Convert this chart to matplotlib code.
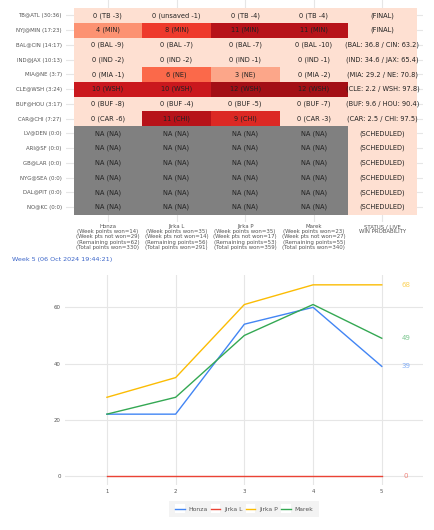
import matplotlib
matplotlib.use("Agg")
import matplotlib.pyplot as plt
from matplotlib.colors import Normalize
from matplotlib.patches import Rectangle
from matplotlib.legend_handler import HandlerLine2D
import numpy as np

# ---------------- data ----------------
games = ["TB@ATL (30:36)", "NYJ@MIN (17:23)", "BAL@CIN (14:17)", "IND@JAX (10:13)",
         "MIA@NE (3:7)", "CLE@WSH (3:24)", "BUF@HOU (3:17)", "CAR@CHI (7:27)",
         "LV@DEN (0:0)", "ARI@SF (0:0)", "GB@LAR (0:0)", "NYG@SEA (0:0)",
         "DAL@PIT (0:0)", "NO@KC (0:0)"]

players = ["Honza", "Jirka L", "Jirka P", "Marek"]

NA = None
honza_pts = [0, 4, 0, 0, 0, 10, 0, 0, NA, NA, NA, NA, NA, NA]
honza_lbl = ["0 (TB -3)", "4 (MIN)", "0 (BAL -9)", "0 (IND -2)", "0 (MIA -1)", "10 (WSH)",
             "0 (BUF -8)", "0 (CAR -6)"] + ["NA (NA)"] * 6
jirkal_pts = [0, 8, 0, 0, 6, 10, 0, 11, NA, NA, NA, NA, NA, NA]
jirkal_lbl = ["0 (unsaved -1)", "8 (MIN)", "0 (BAL -7)", "0 (IND -2)", "6 (NE)", "10 (WSH)",
              "0 (BUF -4)", "11 (CHI)"] + ["NA (NA)"] * 6
jirkap_pts = [0, 11, 0, 0, 3, 12, 0, 9, NA, NA, NA, NA, NA, NA]
jirkap_lbl = ["0 (TB -4)", "11 (MIN)", "0 (BAL -7)", "0 (IND -1)", "3 (NE)", "12 (WSH)",
              "0 (BUF -5)", "9 (CHI)"] + ["NA (NA)"] * 6
marek_pts = [0, 11, 0, 0, 0, 12, 0, 0, NA, NA, NA, NA, NA, NA]
marek_lbl = ["0 (TB -4)", "11 (MIN)", "0 (BAL -10)", "0 (IND -1)", "0 (MIA -2)", "12 (WSH)",
             "0 (BUF -7)", "0 (CAR -3)"] + ["NA (NA)"] * 6
status_lbl = ["(FINAL)", "(FINAL)", "(BAL: 36.8 / CIN: 63.2)", "(IND: 34.6 / JAX: 65.4)",
              "(MIA: 29.2 / NE: 70.8)", "(CLE: 2.2 / WSH: 97.8)", "(BUF: 9.6 / HOU: 90.4)",
              "(CAR: 2.5 / CHI: 97.5)"] + ["(SCHEDULED)"] * 6

week_won = [14, 35, 35, 23]
week_not_won = [29, 14, 17, 27]
remaining = [62, 56, 53, 55]
total_won = [330, 291, 359, 340]

weeks = [1, 2, 3, 4, 5]
honza_series = [22, 22, 54, 60, 39]
jirkal_series = [0, 0, 0, 0, 0]
jirkap_series = [28, 35, 61, 68, 68]
marek_series = [22, 28, 50, 61, 49]
line_colors = ["#4285F4", "#EA4335", "#FBBC04", "#34A853"]

title = "Week 5 (06 Oct 2024 19:44:21)"

# ---------------- figure ----------------
plt.rcParams['font.family'] = ['DejaVu Sans']
W, H = 435, 530
fig = plt.figure(figsize=(W / 100, H / 100), dpi=100)
fig.patch.set_facecolor("white")

def fr(x0, y0, x1, y1):
    return [x0 / W, 1 - y1 / H, (x1 - x0) / W, (y1 - y0) / H]

# ---------- heatmap ----------
ax = fig.add_axes(fr(66, 0, 423, 222))
cmap = plt.get_cmap("Reds")
norm = Normalize(vmin=-2, vmax=14)
grid_c = "#e6e6e6"

pts_cols = [honza_pts, jirkal_pts, jirkap_pts, marek_pts]
lbl_cols = [honza_lbl, jirkal_lbl, jirkap_lbl, marek_lbl]
nrows = len(games)
for c in range(5):
    for r in range(nrows):
        if c < 4:
            v = pts_cols[c][r]
            txt = lbl_cols[c][r]
            col = "#808080" if v is None else cmap(norm(v))
        else:
            txt = status_lbl[r]
            col = cmap(norm(0))
        ax.add_patch(Rectangle((c + 0.5, r - 0.5), 1, 1, facecolor=col, edgecolor="none", zorder=2))
        ax.text(c + 1, r, txt, ha="center", va="center", fontsize=4.8, color="#222222", zorder=3)

ax.set_xlim(0.39, 5.59)
ax.set_ylim(14.0, -1.05)
ax.set_xticks(range(1, 6))
col_labels = [f"{p}\n(Week points won={a})\n(Week pts not won={b})\n(Remaining points={c})\n(Total points won={d})"
              for p, a, b, c, d in zip(players, week_won, week_not_won, remaining, total_won)]
col_labels.append("STATUS / LIVE\nWIN PROBABILITY")
ax.set_xticklabels(col_labels, fontsize=3.9, color="#555555", linespacing=1.05, va="top")
ax.set_yticks(range(nrows))
ax.set_yticklabels(games, fontsize=3.9, color="#555555")
ax.tick_params(length=0, pad=1.5)
ax.tick_params(axis="y", pad=3)
ax.grid(True, color=grid_c, linewidth=0.8, zorder=0)
ax.set_axisbelow(True)
for s in ax.spines.values():
    s.set_visible(False)

# ---------- line chart ----------
fig.text(12 / W, 1 - 259 / H, title, fontsize=4.6, color="#3a64c8", ha="left", va="center")

ax2 = fig.add_axes(fr(65, 275, 423, 485))
series = [honza_series, jirkal_series, jirkap_series, marek_series]
handles = []
for name, s, c in zip(players, series, line_colors):
    h, = ax2.plot(weeks, s, color=c, linewidth=1.0, label=name, zorder=3)
    handles.append(h)
    ax2.text(weeks[-1] + 0.35, s[-1], str(s[-1]), color=c, alpha=0.65, fontsize=5,
             ha="center", va="center")
ax2.set_xlim(0.39, 5.6)
ax2.set_ylim(-3.2, 71.5)
ax2.set_xticks(weeks)
ax2.set_yticks([0, 20, 40, 60])
ax2.tick_params(length=0, labelsize=3.9, labelcolor="#555555", pad=3)
ax2.grid(True, color=grid_c, linewidth=0.8, zorder=0)
ax2.set_axisbelow(True)
for s in ax2.spines.values():
    s.set_visible(False)


class BoxHandler(HandlerLine2D):
    def create_artists(self, legend, orig_handle, xdescent, ydescent, width, height, fontsize, trans):
        box = Rectangle((-xdescent, -ydescent - 1.5), width, height + 3, facecolor="white",
                        edgecolor="none", transform=trans)
        arts = super().create_artists(legend, orig_handle, xdescent, ydescent, width, height, fontsize, trans)
        return [box] + list(arts)


leg = fig.legend(handles=handles, loc="center", bbox_to_anchor=(244 / W, 1 - 509 / H), ncol=4,
                 fontsize=4.4, frameon=True, handlelength=1.6, handletextpad=0.6, columnspacing=0.5,
                 borderpad=0.9, handler_map={h: BoxHandler() for h in handles})
leg.get_frame().set_facecolor("#f0f0f0")
leg.get_frame().set_edgecolor("none")
leg.get_frame().set_boxstyle("square", pad=0)
for t in leg.get_texts():
    t.set_color("#555555")

fig.savefig("out.png", dpi=100, facecolor="white")
